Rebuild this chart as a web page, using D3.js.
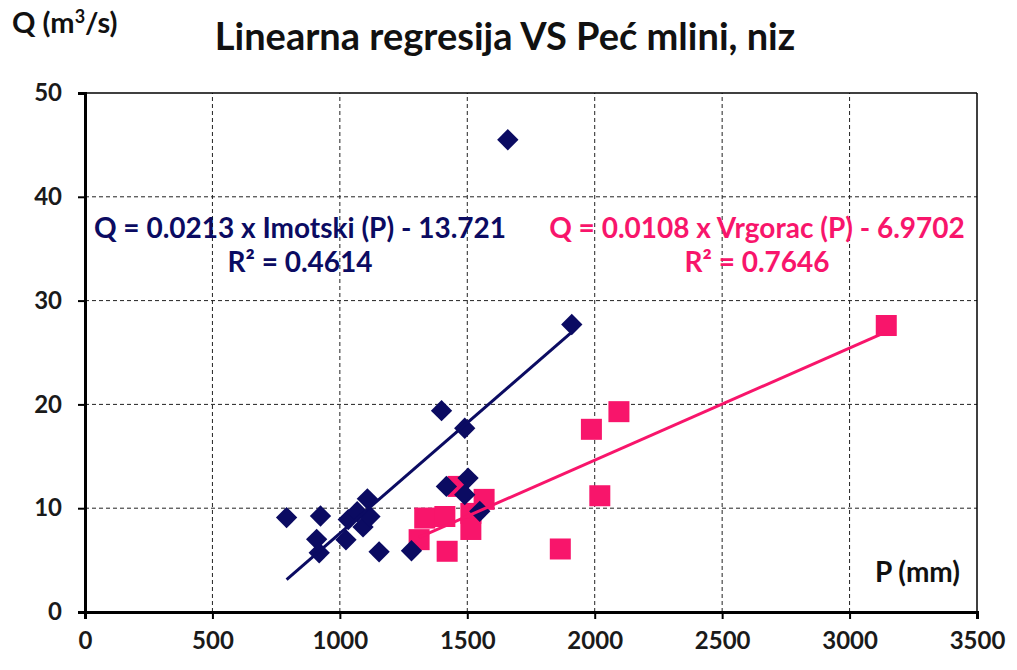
<!DOCTYPE html>
<html>
<head>
<meta charset="utf-8">
<script src="https://cdn.jsdelivr.net/npm/d3@7"></script>
<style>
body { margin: 0; background: #fff; }
text { font-family: Lato, "Open Sans", sans-serif; font-weight: bold; }
</style>
</head>
<body>
<div class="chart"></div>
<script>
// Imotski P (mm) vs Q
var imotskiP = [791, 924, 909, 919, 1024, 1033, 1068, 1091, 1108, 1118, 1154, 1281, 1399, 1490, 1503, 1418, 1490, 1549, 1659, 1910];
var imotskiQ = [9.1, 9.25, 7.0, 5.7, 6.95, 8.9, 9.66, 8.2, 10.9, 9.2, 5.8, 5.9, 19.4, 17.7, 12.9, 12.1, 11.3, 9.7, 45.5, 27.7];
// Vrgorac P (mm) vs Q
var vrgoracP = [1311, 1333, 1412, 1421, 1464, 1514, 1514, 1566, 1865, 1987, 2020, 2095, 3144];
var vrgoracQ = [6.97, 9.05, 9.2, 5.85, 12.1, 9.5, 7.95, 10.85, 6.07, 17.6, 11.2, 19.3, 27.6];
// trend coefficients [slope, intercept]
var imotskiTrend = [0.0213, -13.721];
var vrgoracTrend = [0.0108, -6.9702];
var xTicks = [0, 500, 1000, 1500, 2000, 2500, 3000, 3500];
var yTicks = [0, 10, 20, 30, 40, 50];

var navy = "#0b0b62";
var pink = "#f8156b";

var x = d3.scaleLinear().domain([0, 3500]).range([85, 977]);
var y = d3.scaleLinear().domain([0, 50]).range([612, 93]);

var svg = d3.select(".chart").append("svg")
	.attr("width", 1017)
	.attr("height", 670);

// grid
svg.append("g").selectAll("line").data(xTicks.slice(1, -1)).enter().append("line")
	.attr("x1", function(d){return x(d);}).attr("x2", function(d){return x(d);})
	.attr("y1", y(0)).attr("y2", y(50))
	.attr("stroke", "#222").attr("stroke-width", 1).attr("stroke-dasharray", "4,3");
svg.append("g").selectAll("line").data(yTicks.slice(1, -1)).enter().append("line")
	.attr("x1", x(0)).attr("x2", x(3500))
	.attr("y1", function(d){return y(d);}).attr("y2", function(d){return y(d);})
	.attr("stroke", "#222").attr("stroke-width", 1).attr("stroke-dasharray", "4,3");

// frame top/right
svg.append("line").attr("x1", x(0)).attr("x2", x(3500)).attr("y1", y(50)).attr("y2", y(50)).attr("stroke", "#000").attr("stroke-width", 1.5);
svg.append("line").attr("x1", x(3500)).attr("x2", x(3500)).attr("y1", y(50)).attr("y2", y(0)).attr("stroke", "#000").attr("stroke-width", 1.5);

// axes
var xAxis = svg.append("g").attr("transform", "translate(0," + y(0) + ")")
	.call(d3.axisBottom(x).tickValues(xTicks).tickSize(7).tickPadding(13).tickFormat(d3.format("d")));
var yAxis = svg.append("g").attr("transform", "translate(" + x(0) + ",0)")
	.call(d3.axisLeft(y).tickValues(yTicks).tickSize(7).tickPadding(16));
[xAxis, yAxis].forEach(function(a) {
	a.select(".domain").attr("stroke", "#000").attr("stroke-width", 3);
	a.selectAll(".tick line").attr("stroke", "#000").attr("stroke-width", 2);
	a.selectAll(".tick text").style("font-size", "24px").attr("fill", "#1a1a1a").style("font-family", "Lato, sans-serif").style("font-weight", "bold");
});

// trend lines
function trend(P, coef, color) {
	var ext = d3.extent(P);
	svg.append("line")
		.attr("x1", x(ext[0])).attr("y1", y(coef[0] * ext[0] + coef[1]))
		.attr("x2", x(ext[1])).attr("y2", y(coef[0] * ext[1] + coef[1]))
		.attr("stroke", color).attr("stroke-width", 3);
}

// pink squares
svg.append("g").selectAll("rect").data(vrgoracP).enter().append("rect")
	.attr("x", function(d){return x(d) - 10.5;})
	.attr("y", function(d, i){return y(vrgoracQ[i]) - 10.5;})
	.attr("width", 21).attr("height", 21)
	.attr("fill", pink);

// navy diamonds
svg.append("g").selectAll("path").data(imotskiP).enter().append("path")
	.attr("d", d3.symbol().type(d3.symbolDiamond2).size(290))
	.attr("transform", function(d, i){return "translate(" + x(d) + "," + y(imotskiQ[i]) + ")";})
	.attr("fill", navy);

trend(imotskiP, imotskiTrend, navy);
trend(vrgoracP, vrgoracTrend, pink);

// texts
svg.append("text").attr("x", 505).attr("y", 50).attr("text-anchor", "middle")
	.style("font-size", "38px").attr("fill", "#111").text("Linearna regresija VS Peć mlini, niz");
var ql = svg.append("text").attr("x", 12).attr("y", 33).style("font-size", "29px").attr("fill", "#111");
ql.append("tspan").text("Q (m");
ql.append("tspan").attr("dy", -10).style("font-size", "18px").text("3");
ql.append("tspan").attr("dy", 10).text("/s)");
svg.append("text").attr("x", 960).attr("y", 582).attr("text-anchor", "end")
	.style("font-size", "28px").attr("fill", "#111").text("P (mm)");

svg.append("text").attr("x", 300).attr("y", 238).attr("text-anchor", "middle")
	.style("font-size", "28px").attr("fill", navy).text("Q = 0.0213 x Imotski (P) - 13.721");
svg.append("text").attr("x", 300).attr("y", 272).attr("text-anchor", "middle")
	.style("font-size", "28px").attr("fill", navy).text("R² = 0.4614");
svg.append("text").attr("x", 757).attr("y", 238).attr("text-anchor", "middle")
	.style("font-size", "28px").attr("fill", pink).text("Q = 0.0108 x Vrgorac (P) - 6.9702");
svg.append("text").attr("x", 757).attr("y", 272).attr("text-anchor", "middle")
	.style("font-size", "28px").attr("fill", pink).text("R² = 0.7646");
</script>
</body>
</html>
